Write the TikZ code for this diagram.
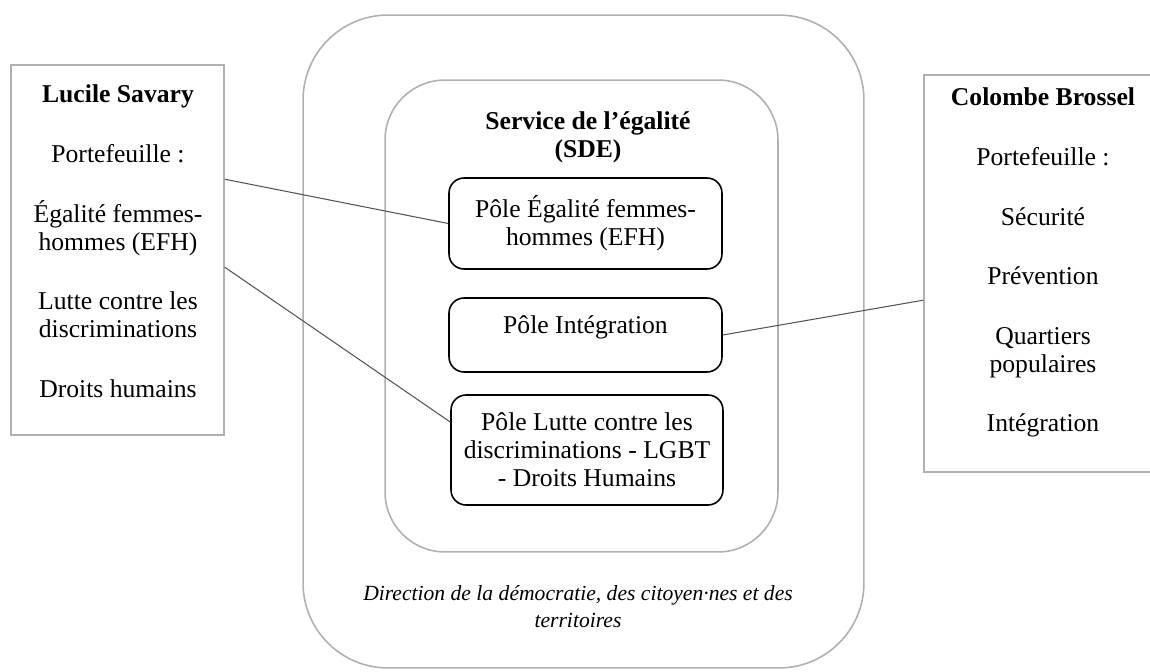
\documentclass[tikz,border=0pt]{standalone}
\usepackage{fontspec}
\setmainfont{Liberation Serif}
\usetikzlibrary{positioning}
\definecolor{cadregris}{RGB}{176,176,176}
\definecolor{liengris}{RGB}{85,85,85}
\tikzset{
  cadre/.style={draw=cadregris, line width=0.9pt, inner sep=0pt},
  pole/.style={draw=black, line width=0.9pt, rounded corners=0.3cm, minimum width=5.46cm, inner sep=0pt, align=center, font=\fontsize{14.6}{15.9}\selectfont},
  txt/.style={align=flush center, inner sep=0pt, anchor=base, font=\fontsize{14.6}{15.9}\selectfont},
  lien/.style={draw=liengris, line width=0.6pt}
}

\begin{document}
\begin{tikzpicture}[x=0.02cm, y=-0.02cm]
\clip (0,0) rectangle (1150,672);
\def\sautpar{18pt}

% direction + service
\node[cadre, rounded corners=1.7cm, minimum width=11.22cm, minimum height=13.06cm] (ddct) at (583.5,341.5) {};
\node[cadre, rounded corners=1.2cm, minimum width=7.86cm, minimum height=9.44cm] (sde) at (581.5,316) {};
\node[txt, text width=6cm, font=\fontsize{14.6}{15.9}\selectfont\bfseries] (tsde) at (588,130) {Service de l’égalité\\(SDE)};
\node[txt, text width=9.5cm, font=\fontsize{12.3}{15.4}\selectfont\itshape] (tddct) at (578,600) {Direction de la démocratie, des citoyen·nes et des\\territoires};

% les trois poles
\node[pole, minimum height=1.82cm] (efh) at (585.5,223.5) {Pôle Égalité femmes-\\hommes (EFH)};
\node[pole, minimum height=1.48cm] (integ) at (585.5,335) {};
\node[txt, anchor=center] (tinteg) at ([yshift=0.16cm]integ.center) {Pôle Intégration};
\node[pole, minimum width=5.44cm, minimum height=2.2cm] (lgbt) at (587,450) {Pôle Lutte contre les\\discriminations - LGBT\\- Droits Humains};

% les deux adjointes
\node[cadre, minimum width=4.26cm, minimum height=7.4cm] (savary) at (117.5,250) {};
\node[txt, text width=4.2cm] (tsavary) at (118,103) {\textbf{Lucile Savary}\\[\sautpar]
  Portefeuille :\\[\sautpar] Égalité femmes-\\hommes (EFH)\\[\sautpar]
  Lutte contre les\\discriminations\\[\sautpar] Droits humains};
\node[cadre, minimum width=4.76cm, minimum height=7.94cm] (brossel) at (1043,273.5) {};
\node[txt, text width=4.7cm] (tbrossel) at (1043,106) {\textbf{Colombe Brossel}\\[\sautpar]
  Portefeuille :\\[\sautpar] Sécurité\\[\sautpar] Prévention\\[\sautpar]
  Quartiers\\populaires\\[\sautpar] Intégration};

% liens
\draw[lien] ([yshift=-2.3cm]savary.north east) -- (efh.west);
\draw[lien] ([yshift=-4.06cm]savary.north east) -- ([yshift=0.56cm]lgbt.west);
\draw[lien] (integ.east) -- ([yshift=-4.52cm]brossel.north west);
\end{tikzpicture}
\end{document}
